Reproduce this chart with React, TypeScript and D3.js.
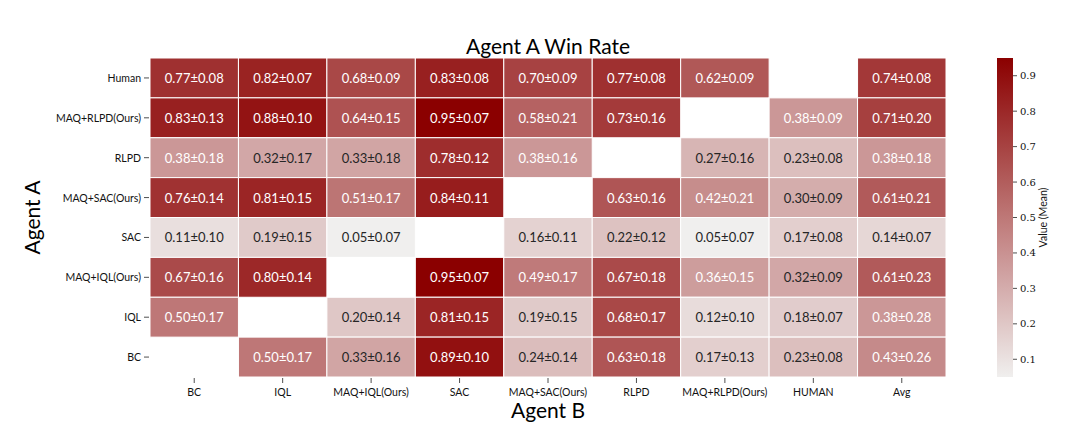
import React, { useEffect, useRef } from 'react';
import { scaleBand, scaleLinear, select, interpolateRgb, rgb, range } from 'd3';

const rowLabels = ['Human', 'MAQ+RLPD(Ours)', 'RLPD', 'MAQ+SAC(Ours)', 'SAC', 'MAQ+IQL(Ours)', 'IQL', 'BC'];
const colLabels = ['BC', 'IQL', 'MAQ+IQL(Ours)', 'SAC', 'MAQ+SAC(Ours)', 'RLPD', 'MAQ+RLPD(Ours)', 'HUMAN', 'Avg'];

// win rate means (null = not played)
const means: (number | null)[][] = [
  [0.77, 0.82, 0.68, 0.83, 0.70, 0.77, 0.62, null, 0.74],
  [0.83, 0.88, 0.64, 0.95, 0.58, 0.73, null, 0.38, 0.71],
  [0.38, 0.32, 0.33, 0.78, 0.38, null, 0.27, 0.23, 0.38],
  [0.76, 0.81, 0.51, 0.84, null, 0.63, 0.42, 0.30, 0.61],
  [0.11, 0.19, 0.05, null, 0.16, 0.22, 0.05, 0.17, 0.14],
  [0.67, 0.80, null, 0.95, 0.49, 0.67, 0.36, 0.32, 0.61],
  [0.50, null, 0.20, 0.81, 0.19, 0.68, 0.12, 0.18, 0.38],
  [null, 0.50, 0.33, 0.89, 0.24, 0.63, 0.17, 0.23, 0.43],
];
const stds: (number | null)[][] = [
  [0.08, 0.07, 0.09, 0.08, 0.09, 0.08, 0.09, null, 0.08],
  [0.13, 0.10, 0.15, 0.07, 0.21, 0.16, null, 0.09, 0.20],
  [0.18, 0.17, 0.18, 0.12, 0.16, null, 0.16, 0.08, 0.18],
  [0.14, 0.15, 0.17, 0.11, null, 0.16, 0.21, 0.09, 0.21],
  [0.10, 0.15, 0.07, null, 0.11, 0.12, 0.07, 0.08, 0.07],
  [0.16, 0.14, null, 0.07, 0.17, 0.18, 0.15, 0.09, 0.23],
  [0.17, null, 0.14, 0.15, 0.15, 0.17, 0.10, 0.07, 0.28],
  [null, 0.17, 0.16, 0.10, 0.14, 0.18, 0.13, 0.08, 0.26],
];
const cbarTicks = [0.1, 0.2, 0.3, 0.4, 0.5, 0.6, 0.7, 0.8, 0.9];

const W = 1078;
const H = 444;
const left = 150, right = 946, top = 58, bottom = 377;
const vmin = 0.05, vmax = 0.95;
const sans = 'Lato, "Open Sans", sans-serif';
const serif = '"DejaVu Serif", "Liberation Serif", serif';

const colorOf = (v: number) =>
  interpolateRgb('#f0efee', '#8b0000')((v - vmin) / (vmax - vmin));

function luminance(c: string) {
  const { r, g, b } = rgb(c);
  const lin = (x: number) => {
    const s = x / 255;
    return s <= 0.03928 ? s / 12.92 : Math.pow((s + 0.055) / 1.055, 2.4);
  };
  return 0.2126 * lin(r) + 0.7152 * lin(g) + 0.0722 * lin(b);
}

function App() {
  const svgRef = useRef<SVGSVGElement | null>(null);

  useEffect(() => {
    const svg = select(svgRef.current);
    svg.selectAll('*').remove();

    const x = scaleBand<string>().domain(colLabels).range([left, right]);
    const y = scaleBand<string>().domain(rowLabels).range([top, bottom]);

    const cells: { r: number; c: number; m: number; s: number }[] = [];
    means.forEach((row, r) =>
      row.forEach((m, c) => {
        if (m !== null) cells.push({ r, c, m, s: stds[r][c] as number });
      })
    );

    const g = svg.append('g');
    g.selectAll('rect.cell')
      .data(cells)
      .join('rect')
      .attr('x', d => x(colLabels[d.c])!)
      .attr('y', d => y(rowLabels[d.r])!)
      .attr('width', x.bandwidth())
      .attr('height', y.bandwidth())
      .attr('fill', d => colorOf(d.m))
      .attr('stroke', '#fff')
      .attr('stroke-width', 1);

    g.selectAll('text.ann')
      .data(cells)
      .join('text')
      .attr('x', d => x(colLabels[d.c])! + x.bandwidth() / 2)
      .attr('y', d => y(rowLabels[d.r])! + y.bandwidth() / 2)
      .attr('text-anchor', 'middle')
      .attr('dominant-baseline', 'central')
      .attr('font-family', sans)
      .attr('font-size', 13)
      .attr('fill', d => (luminance(colorOf(d.m)) > 0.408 ? '#262626' : '#ffffff'))
      .text(d => `${d.m.toFixed(2)}\u00b1${d.s.toFixed(2)}`);

    // y ticks
    rowLabels.forEach(lab => {
      const cy = y(lab)! + y.bandwidth() / 2;
      svg.append('line').attr('x1', left - 6).attr('x2', left - 1).attr('y1', cy).attr('y2', cy)
        .attr('stroke', '#222').attr('stroke-width', 0.8);
      svg.append('text').attr('x', left - 9).attr('y', cy).attr('text-anchor', 'end')
        .attr('dominant-baseline', 'central').attr('font-family', sans).attr('font-size', 10.5)
        .attr('fill', '#111').text(lab);
    });
    // x ticks
    colLabels.forEach(lab => {
      const cx = x(lab)! + x.bandwidth() / 2;
      svg.append('line').attr('x1', cx).attr('x2', cx).attr('y1', bottom + 1).attr('y2', bottom + 6)
        .attr('stroke', '#222').attr('stroke-width', 0.8);
      svg.append('text').attr('x', cx).attr('y', bottom + 19).attr('text-anchor', 'middle')
        .attr('font-family', sans).attr('font-size', 10.5).attr('fill', '#111').text(lab);
    });

    // titles
    svg.append('text').attr('x', (left + right) / 2).attr('y', 54).attr('text-anchor', 'middle')
      .attr('font-family', sans).attr('font-size', 21).attr('fill', '#000').text('Agent A Win Rate');
    svg.append('text').attr('x', (left + right) / 2).attr('y', 418).attr('text-anchor', 'middle')
      .attr('font-family', sans).attr('font-size', 21).attr('fill', '#000').text('Agent B');
    svg.append('text').attr('transform', `translate(40, ${(top + bottom) / 2}) rotate(-90)`)
      .attr('text-anchor', 'middle').attr('font-family', sans).attr('font-size', 21)
      .attr('fill', '#000').text('Agent A');

    // colorbar
    const cbX = 997, cbW = 16;
    const cy = scaleLinear().domain([vmin, vmax]).range([bottom, top]);
    const defs = svg.append('defs');
    const grad = defs.append('linearGradient').attr('id', 'cbar')
      .attr('x1', 0).attr('y1', 1).attr('x2', 0).attr('y2', 0);
    range(0, 1.0001, 0.1).forEach(t => {
      grad.append('stop').attr('offset', t).attr('stop-color', colorOf(vmin + t * (vmax - vmin)));
    });
    svg.append('rect').attr('x', cbX).attr('y', top).attr('width', cbW).attr('height', bottom - top)
      .attr('fill', 'url(#cbar)');
    cbarTicks.forEach(t => {
      svg.append('line').attr('x1', cbX + cbW).attr('x2', cbX + cbW + 4).attr('y1', cy(t)).attr('y2', cy(t))
        .attr('stroke', '#222').attr('stroke-width', 0.8);
      svg.append('text').attr('x', cbX + cbW + 7).attr('y', cy(t)).attr('dominant-baseline', 'central')
        .attr('font-family', serif).attr('font-size', 10).attr('fill', '#111').text(t.toFixed(1));
    });
    svg.append('text').attr('transform', `translate(1047, ${(top + bottom) / 2}) rotate(-90)`)
      .attr('text-anchor', 'middle').attr('font-family', sans).attr('font-size', 10.5)
      .attr('fill', '#111').text('Value (Mean)');
  }, []);

  return (
    <div>
      <svg ref={svgRef} width={W} height={H} style={{ position: 'absolute', left: 0, top: 0, background: '#fff' }} />
    </div>
  );
}

export default App;
